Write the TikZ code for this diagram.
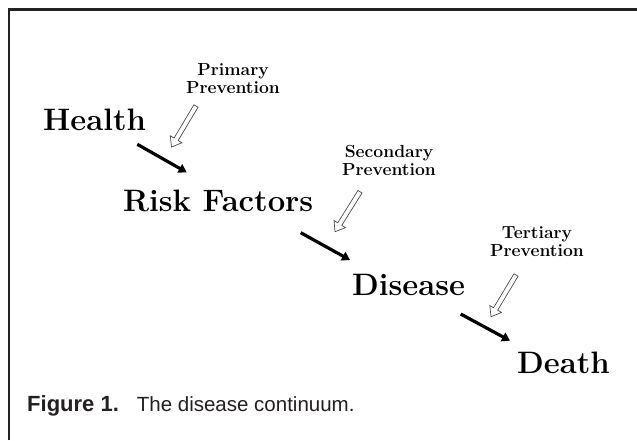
\documentclass[tikz,border=0pt]{standalone}
\usepackage{fontspec}
\newfontfamily\capfont{Liberation Sans}
\usetikzlibrary{arrows.meta,calc}
\definecolor{framegray}{HTML}{222222}
\definecolor{capgray}{HTML}{231F20}
\tikzset{
  bigterm/.style={font=\fontsize{31}{31}\selectfont\bfseries, inner sep=0pt, anchor=base west},
  prevlabel/.style={font=\fontsize{17.5}{18.3}\selectfont\bfseries, align=center, inner sep=0pt, anchor=north},
  stagearrow/.style={line width=3.2pt, -{Triangle[length=8pt,width=9.5pt]}},
  hollowline/.style={draw=black!70, line width=0.7pt, fill=white, line join=miter},
}
% hollow arrow from coordinate #1 (tail) to coordinate #2 (tip)
\newcommand{\prevarrow}[2]{%
  \coordinate (#2-b) at ($(#2)!9pt!(#1)$);
  \draw[hollowline] ($(#1)!2.4pt!90:(#2)$) -- ($(#2-b)!2.4pt!90:(#2)$)
    -- ($(#2-b)!6.8pt!90:(#2)$) -- (#2) -- ($(#2-b)!6.8pt!-90:(#2)$)
    -- ($(#2-b)!2.4pt!-90:(#2)$) -- ($(#1)!2.4pt!-90:(#2)$) -- cycle;}
\begin{document}
\begin{tikzpicture}[x=1pt,y=-1pt]
\useasboundingbox (0,0) rectangle (637,440);
% frame (top and left edges)
\draw[framegray, line width=2.8pt] (9,440) -- (9,9.5) -- (637,9.5);

% main stages
\node[bigterm] (health) at (43,130) {Health};
\node[bigterm] (risk) at (123,211.5) {Risk Factors};
\node[bigterm] (disease) at (352,295) {Disease};
\node[bigterm] (death) at (517,373) {Death};

% prevention labels
\node[prevlabel] (prim) at (233,63) {Primary\\Prevention};
\node[prevlabel] (sec) at (389,144.6) {Secondary\\Prevention};
\node[prevlabel] (ter) at (537,226.2) {Tertiary\\Prevention};

% black stage arrows
\coordinate (b1s) at (137.3,144.3); \coordinate (b1e) at (186.7,172.3);
\coordinate (b2s) at (300.7,232.7); \coordinate (b2e) at (350,260);
\coordinate (b3s) at (460.7,314);   \coordinate (b3e) at (510,340.7);
\draw[stagearrow] (b1s) -- (b1e);
\draw[stagearrow] (b2s) -- (b2e);
\draw[stagearrow] (b3s) -- (b3e);

% hollow prevention arrows
\coordinate (h1s) at (196,106);   \coordinate (h1e) at (171.5,147);
\coordinate (h2s) at (360,191.7); \coordinate (h2e) at (335,231.7);
\coordinate (h3s) at (516,275);   \coordinate (h3e) at (491,316.7);
\prevarrow{h1s}{h1e}
\prevarrow{h2s}{h2e}
\prevarrow{h3s}{h3e}

% caption
\node[font=\capfont, text=capgray, inner sep=0pt, anchor=base west] (cap) at (27,411)
  {{\fontsize{22}{22}\selectfont\bfseries Figure 1.}\hspace*{18pt}{\fontsize{20.5}{21}\selectfont The disease continuum.}};
\end{tikzpicture}
\end{document}
